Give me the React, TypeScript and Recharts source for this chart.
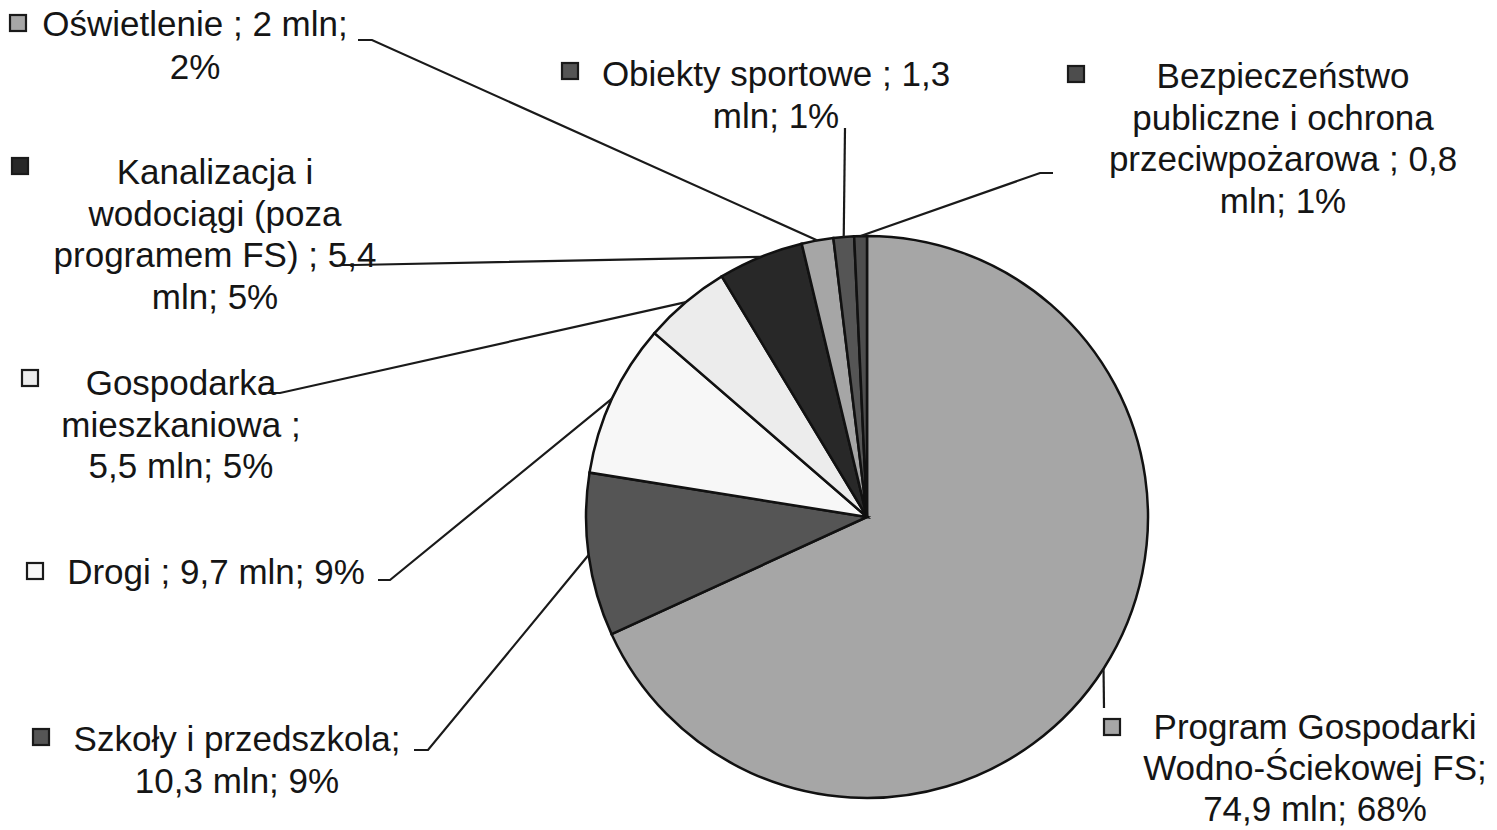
import React from "react";
import { PieChart, Pie, Cell } from "recharts";

const RADIAN = Math.PI / 180;

const categories = [
  "Program Gospodarki Wodno-Ściekowej FS",
  "Szkoły i przedszkola",
  "Drogi",
  "Gospodarka mieszkaniowa",
  "Kanalizacja i wodociągi (poza programem FS)",
  "Oświetlenie",
  "Obiekty sportowe",
  "Bezpieczeństwo publiczne i ochrona przeciwpożarowa",
];
const values = [74.9, 10.3, 9.7, 5.5, 5.4, 2, 1.3, 0.8];
const colors = ["#a6a6a6", "#555555", "#f7f7f7", "#ececec", "#282828", "#a6a6a6", "#555555", "#4d4d4d"];
const labelLines = [
  ["Program Gospodarki", "Wodno-Ściekowej FS;", "74,9 mln; 68%"],
  ["Szkoły i przedszkola;", "10,3 mln; 9%"],
  ["Drogi ; 9,7 mln; 9%"],
  ["Gospodarka", "mieszkaniowa ;", "5,5 mln; 5%"],
  ["Kanalizacja i", "wodociągi (poza", "programem FS) ; 5,4", "mln; 5%"],
  ["Oświetlenie ; 2 mln;", "2%"],
  ["Obiekty sportowe ; 1,3", "mln; 1%"],
  ["Bezpieczeństwo", "publiczne i ochrona", "przeciwpożarowa ; 0,8", "mln; 1%"],
];

// where each label sits: text centre x, first baseline y, leader elbow, leader end, legend key
const labelLayout = [
  { tx: 1315, ty: 739, gap: 41, elbow: [1104, 708], end: [1104, 708], key: [1104, 719] },
  { tx: 237, ty: 751, gap: 41.5, elbow: [428, 750], end: [414, 750], key: [33, 729] },
  { tx: 216, ty: 584, gap: 41.5, elbow: [390, 580], end: [378, 580], key: [27, 563] },
  { tx: 181, ty: 395, gap: 41.5, elbow: [280, 393], end: [262, 393], key: [22, 370] },
  { tx: 215, ty: 184, gap: 41.5, elbow: [355, 265], end: [342, 265], key: [12, 158] },
  { tx: 195, ty: 36, gap: 43, elbow: [372, 40], end: [358, 40], key: [10, 15] },
  { tx: 776, ty: 86, gap: 41.5, elbow: [845, 128], end: [845, 128], key: [562, 63] },
  { tx: 1283, ty: 88, gap: 41.5, elbow: [1040, 173], end: [1053, 173], key: [1068, 66] },
];

const data = categories.map((name, i) => ({ name, value: values[i] }));

const FONT = "'Liberation Sans', Arial, sans-serif";

function renderLabel(props: any) {
  const { cx, cy, midAngle, outerRadius, index } = props;
  const lay = labelLayout[index];
  const sx = cx + outerRadius * Math.cos(-midAngle * RADIAN);
  const sy = cy + outerRadius * Math.sin(-midAngle * RADIAN);
  const lines = labelLines[index];
  return (
    <g key={`lbl-${index}`}>
      <polyline
        points={`${sx},${sy} ${lay.elbow[0]},${lay.elbow[1]} ${lay.end[0]},${lay.end[1]}`}
        fill="none"
        stroke="#1a1a1a"
        strokeWidth={2.2}
      />
      <rect x={lay.key[0]} y={lay.key[1]} width={16} height={16} fill={colors[index]} stroke="#1a1a1a" strokeWidth={2.2} />
      <text x={lay.tx} y={lay.ty} textAnchor="middle" fontSize={35} fontFamily={FONT} fill="#151515">
        {lines.map((l, j) => (
          <tspan key={j} x={lay.tx} dy={j === 0 ? 0 : lay.gap}>
            {l}
          </tspan>
        ))}
      </text>
    </g>
  );
}

export default function App() {
  return (
    <div style={{ position: "absolute", left: 0, top: 0, background: "#fff" }}>
      <PieChart width={1497} height={830} margin={{ top: 0, right: 0, bottom: 0, left: 0 }}>
        <Pie
          data={data}
          dataKey="value"
          nameKey="name"
          cx={867}
          cy={517}
          outerRadius={281}
          startAngle={90}
          endAngle={-270}
          stroke="#111"
          strokeWidth={2.5}
          label={renderLabel}
          labelLine={false}
          isAnimationActive={false}
        >
          {data.map((d, i) => (
            <Cell key={d.name} fill={colors[i]} />
          ))}
        </Pie>
      </PieChart>
    </div>
  );
}
